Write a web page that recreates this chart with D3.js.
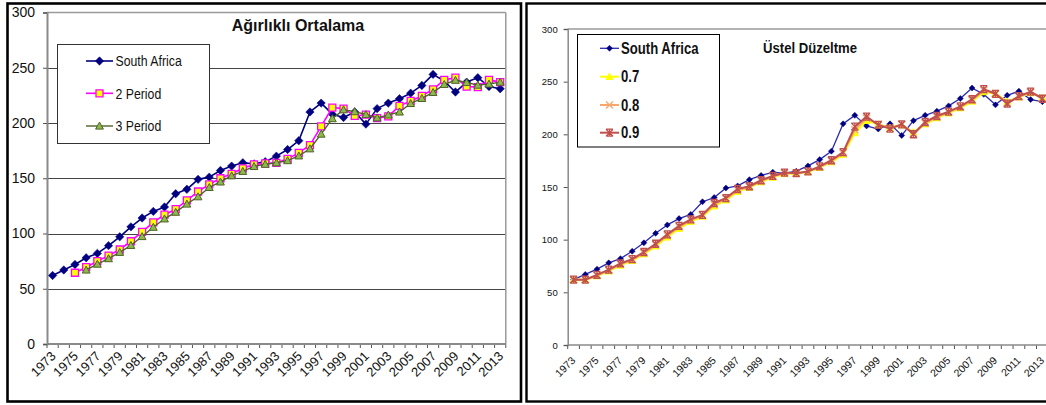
<!DOCTYPE html>
<html><head><meta charset="utf-8">
<script src="https://cdn.jsdelivr.net/npm/d3@7"></script>
<style>
body{margin:0;background:#fff}
svg{display:block}
text{font-family:Arial,"Liberation Sans",sans-serif;fill:#111}
</style>
</head><body>
<svg id="c" width="1046" height="405"></svg>
<script>
const years = [1973,1974,1975,1976,1977,1978,1979,1980,1981,1982,1983,1984,1985,1986,1987,1988,1989,1990,1991,1992,1993,1994,1995,1996,1997,1998,1999,2000,2001,2002,2003,2004,2005,2006,2007,2008,2009,2010,2011,2012,2013];
const southAfrica = [62,67,72,78,82,89,97,106,114,120,124,136,140,149,151,157,161,164,163,165,170,176,184,210,218,208,205,210,199,213,218,222,227,234,244,238,228,237,241,233,231];
const period2 = [null,null,64.5,69.5,75,80,85.5,93,101.5,110,117,122,130,138,144.5,150,154,159,162.5,163.5,164,167.5,173,180,197,214,213,206.5,207.5,204.5,206,215.5,220,224.5,230.5,239,241,233,232.5,239,237];
const period3 = [null,null,null,67,72.3,77.3,83,89.3,97.3,105.7,113.3,119.3,126.7,133.3,141.7,146.7,152.3,156.3,160.7,162.7,164,166,170.3,176.7,190,204,212,210.3,207.7,204.7,207.3,210,217.7,222.3,227.7,235,238.7,236.7,234.3,235.3,237];
const smooth07 = [62,62,65.5,70.1,75.6,80.1,86.3,93.8,102.3,110.5,117.2,122,131.8,137.5,145.6,149.4,154.7,159.1,162.5,162.9,164.4,168.3,173.7,180.9,201.3,213,209.5,206.4,208.9,202,209.7,215.5,220.1,224.9,231.3,240.2,238.7,231.2,235.3,239.3,234.9];
const smooth08 = [62,62,66,70.8,76.6,80.9,87.4,95.1,103.8,112,118.4,122.9,133.4,138.7,146.9,150.2,155.6,159.9,163.2,163,164.6,168.9,174.6,182.1,204.4,215.3,209.5,205.9,209.2,201,210.6,216.5,220.9,225.8,232.4,241.7,238.7,230.1,235.6,239.9,234.4];
const smooth09 = [62,62,66.5,71.5,77.4,81.5,88.3,96.1,105,113.1,119.3,123.5,134.8,139.5,148.1,150.7,156.4,160.5,163.7,163.1,164.8,169.5,175.4,183.1,207.3,216.9,208.9,205.4,209.5,200.1,211.7,217.4,221.5,226.5,233.3,242.9,238.5,229.1,236.2,240.5,233.8];
const yTicks = [0,50,100,150,200,250,300];
const leftTitle = "Ağırlıklı Ortalama";
const rightTitle = "Üstel Düzeltme";
const leftNames = ["South Africa","2 Period","3 Period"];
const rightNames = ["South Africa","0.7","0.8","0.9"];

const svg = d3.select("#c");

svg.append("rect").attr("x",7.5).attr("y",3.5).attr("width",513.5).attr("height",398)
  .attr("fill","#fff").attr("stroke","#000").attr("stroke-width",2.6);
svg.append("rect").attr("x",526.5).attr("y",3.5).attr("width",540).attr("height",398)
  .attr("fill","#fff").attr("stroke","#000").attr("stroke-width",2.4);

function diamond(s){return `M0,${-s}L${s},0L0,${s}L${-s},0Z`;}
function square(s){return `M${-s},${-s}H${s}V${s}H${-s}Z`;}
function triangle(s){return `M0,${-s}L${s},${s*0.8}L${-s},${s*0.8}Z`;}
function cross(s){return `M${-s},${-s}L${s},${s}M${s},${-s}L${-s},${s}`;}
function star(s){return `M${-s},${-s}L${s},${s}M${s},${-s}L${-s},${s}M${-s},${-s}H${s}M${-s},${s}H${s}M0,${-s}V${s}`;}

function drawPanel(cfg){
  const g = svg.append("g");
  const x = d3.scaleBand().domain(years).range([cfg.x0, cfg.x0 + cfg.step*years.length]).padding(0);
  const y = d3.scaleLinear().domain([0,300]).range([cfg.yb, cfg.yt]);
  const xEnd = cfg.x0 + cfg.step*years.length;
  const xClip = Math.min(xEnd, 1046);
  if(cfg.grid){
    g.append("g").selectAll("line").data(yTicks.filter(v=>v>0&&v<300)).join("line")
      .attr("x1",cfg.x0).attr("x2",xEnd).attr("y1",d=>Math.round(y(d))+0.5).attr("y2",d=>Math.round(y(d))+0.5)
      .attr("stroke","#444").attr("stroke-width",1);
  }
  g.append("line").attr("x1",cfg.x0).attr("x2",xClip).attr("y1",y(300)).attr("y2",y(300)).attr("stroke","#9a9a9a").attr("stroke-width",1.5);
  if(xEnd<1046) g.append("line").attr("x1",xEnd).attr("x2",xEnd).attr("y1",y(300)).attr("y2",y(0)).attr("stroke","#9a9a9a").attr("stroke-width",1.5);
  const ya = d3.axisLeft(y).tickValues(yTicks).tickSize(cfg.tick).tickPadding(cfg.ypad).tickFormat(d3.format("d"));
  const yg = g.append("g").attr("transform",`translate(${cfg.x0},0)`).call(ya);
  yg.select(".domain").attr("stroke","#8a8a8a").attr("stroke-width",cfg.axisW);
  yg.selectAll(".tick line").attr("stroke","#555");
  yg.selectAll(".tick text").attr("font-size",cfg.yFont).attr("fill","#111")
    .attr("font-family","Arial,'Liberation Sans',sans-serif");
  const bounds = years.map(d=>x(d)).concat([xEnd]);
  g.append("g").selectAll("line").data(bounds).join("line")
    .attr("x1",d=>d).attr("x2",d=>d).attr("y1",y(0)).attr("y2",y(0)+cfg.tick).attr("stroke","#555");
  g.append("line").attr("x1",cfg.x0).attr("x2",xClip).attr("y1",y(0)).attr("y2",y(0)).attr("stroke","#8a8a8a").attr("stroke-width",cfg.axisW);
  const labYears = years.filter((d,i)=>i%2===0);
  g.append("g").selectAll("text").data(labYears).join("text")
    .attr("transform",d=>`translate(${x(d)+x.bandwidth()/2+cfg.lx},${y(0)+cfg.ly}) rotate(${cfg.rot})`)
    .attr("text-anchor","end").attr("font-size",cfg.xFont).attr("fill","#111").text(d=>d);
  cfg.series.forEach(s=>{
    const pts = years.map((d,i)=>({d, v:s.values[i]})).filter(p=>p.v!==null);
    const line = d3.line().x(p=>x(p.d)+x.bandwidth()/2).y(p=>y(p.v));
    g.append("path").datum(pts).attr("d",line).attr("fill","none")
      .attr("stroke",s.color).attr("stroke-width",s.width).attr("stroke-linejoin","round");
    g.append("g").selectAll("path").data(pts).join("path")
      .attr("transform",p=>`translate(${x(p.d)+x.bandwidth()/2},${y(p.v)})`)
      .attr("d",s.marker).attr("fill",s.fill).attr("stroke",s.mstroke).attr("stroke-width",s.mw);
  });
  g.append("text").attr("transform",`translate(${cfg.tx},${cfg.ty}) scale(${cfg.tsx},1)`)
    .attr("text-anchor","middle").attr("font-weight","bold").attr("font-size",cfg.tFont).text(cfg.title);
  const L = cfg.legend;
  g.append("rect").attr("x",L.x).attr("y",L.y).attr("width",L.w).attr("height",L.h)
    .attr("fill","#fff").attr("stroke",L.stroke).attr("stroke-width",1);
  cfg.series.forEach((s,i)=>{
    const yy = L.items[i];
    g.append("line").attr("x1",L.lx0).attr("x2",L.lx1).attr("y1",yy).attr("y2",yy)
      .attr("stroke",s.color).attr("stroke-width",s.width);
    g.append("path").attr("transform",`translate(${(L.lx0+L.lx1)/2},${yy})`).attr("d",s.marker)
      .attr("fill",s.fill).attr("stroke",s.mstroke).attr("stroke-width",s.mw);
    g.append("text").attr("transform",`translate(${L.tx},${yy}) scale(${L.sx},1)`)
      .attr("dy","0.36em").attr("font-size",L.font).attr("font-weight",L.weight).text(s.name);
  });
}

drawPanel({
  x0:47, step:11.19, yb:344, yt:12.5, grid:true, tick:4, ypad:8, axisW:2,
  yFont:"14px", xFont:"13px", lx:4, ly:13, rot:-45,
  title:leftTitle, tx:298, ty:31, tsx:1, tFont:"16px",
  legend:{x:57.5,y:44.5,w:152,h:99,stroke:"#333",items:[61,93.3,126],lx0:86,lx1:113,tx:115.5,font:"15px",weight:"normal",sx:0.82},
  series:[
    {name:leftNames[0],values:southAfrica,color:"#000080",width:1.6,marker:diamond(4.2),fill:"#000080",mstroke:"#000080",mw:0.5},
    {name:leftNames[1],values:period2,color:"#FF00FF",width:1.6,marker:square(3.5),fill:"#FFFF00",mstroke:"#FF00FF",mw:1.3},
    {name:leftNames[2],values:period3,color:"#4F6228",width:1.4,marker:triangle(3.9),fill:"#8DB84A",mstroke:"#4F6228",mw:1}
  ]
});

drawPanel({
  x0:567.7, step:11.72, yb:345, yt:29, grid:false, tick:4, ypad:6, axisW:1.5,
  yFont:"9.5px", xFont:"10.5px", lx:2.5, ly:16, rot:-45,
  title:rightTitle, tx:810, ty:53, tsx:0.875, tFont:"15px",
  legend:{x:577.5,y:34.5,w:142,h:112.5,stroke:"#000",items:[48.3,76.7,105,132.7],lx0:600,lx1:619,tx:621,font:"16px",weight:"bold",sx:0.82},
  series:[
    {name:rightNames[0],values:southAfrica,color:"#2A2AB0",width:1.3,marker:diamond(3),fill:"#000080",mstroke:"#000080",mw:0.5},
    {name:rightNames[1],values:smooth07,color:"#FFFF00",width:2,marker:triangle(3.5),fill:"#FFFF00",mstroke:"#FFFF00",mw:1},
    {name:rightNames[2],values:smooth08,color:"#F9A66E",width:2,marker:cross(3.5),fill:"none",mstroke:"#F9A66E",mw:1.3},
    {name:rightNames[3],values:smooth09,color:"#C0504D",width:2,marker:star(3.5),fill:"none",mstroke:"#C0504D",mw:1.3}
  ]
});
</script>
</body></html>
